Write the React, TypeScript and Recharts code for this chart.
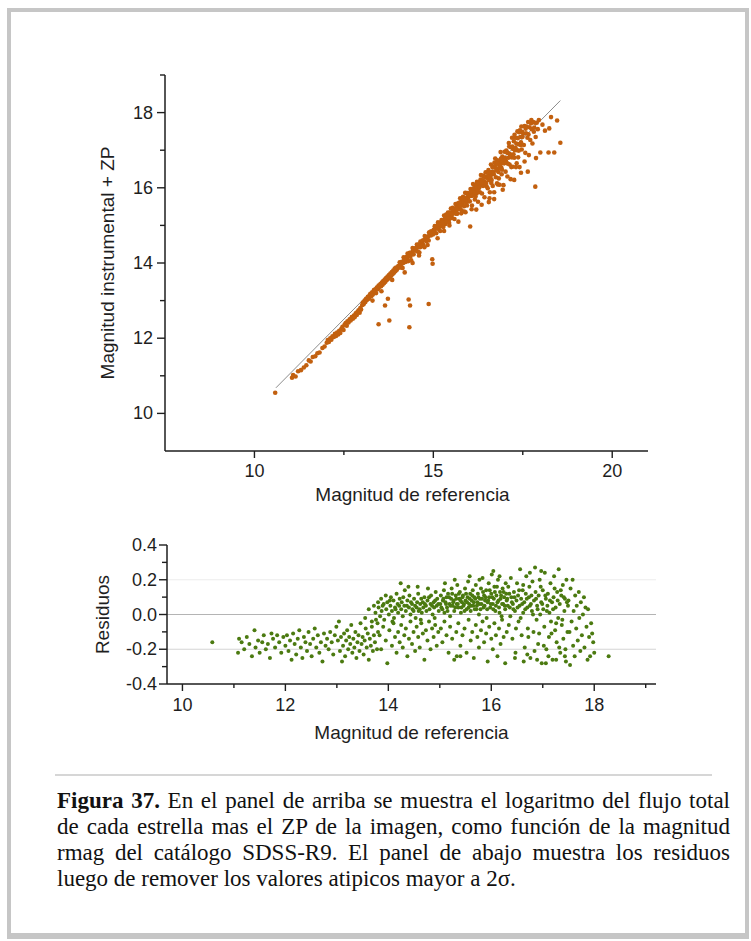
import React from 'react';
import { ScatterChart, Scatter, XAxis, YAxis, ReferenceLine } from 'recharts';

// upper panel: reference magnitude vs instrumental magnitude + ZP
const topStars: [number, number][] = [
  [10.58, 10.55],
  [11.05, 10.95], [11.08, 11.02], [11.15, 10.98], [11.22, 11.12], [11.3, 11.15], [11.38, 11.22], [11.45, 11.28], [11.52, 11.41],
  [11.57, 11.38], [11.63, 11.5], [11.7, 11.52], [11.76, 11.6], [11.82, 11.62], [11.9, 11.74], [11.96, 11.78],
  [12.02, 11.88], [12.05, 11.95], [12.08, 11.9], [12.12, 12.0], [12.15, 11.96], [12.18, 12.05], [12.22, 12.03], [12.25, 12.12],
  [12.28, 12.06], [12.31, 12.15], [12.34, 12.1], [12.37, 12.2], [12.4, 12.14], [12.43, 12.25], [12.46, 12.3], [12.49, 12.22],
  [12.52, 12.36], [12.55, 12.4], [12.58, 12.33], [12.6, 12.45], [12.63, 12.42], [12.66, 12.5], [12.69, 12.47], [12.72, 12.56],
  [12.75, 12.52], [12.78, 12.6], [12.8, 12.56], [12.83, 12.66], [12.86, 12.62], [12.88, 12.7], [12.91, 12.74], [12.94, 12.68],
  [12.96, 12.8], [12.98, 12.76],
  [13.01, 12.88], [13.03, 12.95], [13.05, 12.9], [13.08, 13.0], [13.1, 12.96], [13.12, 13.05], [13.15, 13.02], [13.17, 13.1],
  [13.2, 13.05], [13.22, 13.14], [13.24, 13.18], [13.27, 13.12], [13.29, 13.22], [13.31, 13.16], [13.34, 13.28], [13.36, 13.24],
  [13.38, 13.3], [13.4, 13.2], [13.42, 13.35], [13.45, 13.3], [13.47, 13.4], [13.49, 13.36], [13.52, 13.44], [13.54, 13.38],
  [13.56, 13.48], [13.58, 13.42], [13.6, 13.52], [13.62, 13.46], [13.64, 13.56], [13.66, 13.5], [13.68, 13.6], [13.7, 13.55],
  [13.72, 13.64], [13.74, 13.58], [13.76, 13.68], [13.78, 13.62], [13.8, 13.72], [13.82, 13.66], [13.84, 13.76], [13.86, 13.7],
  [13.88, 13.8], [13.9, 13.74], [13.92, 13.85], [13.94, 13.78], [13.96, 13.88], [13.98, 13.82],
  [13.47, 12.37], [13.65, 12.87], [13.73, 13.05], [13.77, 12.47], [13.55, 13.25], [13.85, 13.55], [13.3, 13.0],
  [14.02, 13.92], [14.05, 13.88], [14.06, 14.02], [14.09, 13.95], [14.11, 13.88], [14.12, 14.03], [14.16, 14.0], [14.17, 14.15],
  [14.19, 14.07], [14.23, 14.03], [14.24, 14.16], [14.27, 14.12], [14.28, 14.25], [14.3, 14.05], [14.33, 14.2], [14.34, 14.27],
  [14.36, 14.17], [14.39, 14.28], [14.41, 14.25], [14.42, 14.4], [14.45, 14.23], [14.47, 14.34], [14.48, 14.39], [14.51, 14.33],
  [14.53, 14.4], [14.54, 14.49], [14.57, 14.3], [14.58, 14.42], [14.6, 14.5], [14.63, 14.42], [14.64, 14.57], [14.66, 14.51],
  [14.69, 14.51], [14.7, 14.6], [14.72, 14.48], [14.75, 14.62], [14.76, 14.72], [14.79, 14.62], [14.8, 14.58], [14.82, 14.7],
  [14.85, 14.69], [14.87, 14.6], [14.88, 14.81], [14.9, 14.76], [14.93, 14.73], [14.94, 14.84], [14.96, 14.79], [14.99, 14.76],
  [14.14, 13.87], [14.38, 14.07], [14.61, 14.28], [14.84, 14.48], [14.03, 13.88], [14.2, 14.1], [14.44, 14.34], [14.67, 14.45],
  [14.91, 14.82],
  [14.31, 13.03], [14.35, 12.87], [14.33, 12.29], [14.87, 12.91], [14.42, 14.0], [14.97, 14.1], [14.98, 13.98], [14.6, 14.2],
  [14.75, 14.42], [14.2, 13.75],
  [15.01, 14.88], [15.03, 14.82], [15.04, 14.98], [15.07, 14.91], [15.08, 14.79], [15.1, 14.99], [15.12, 14.92], [15.13, 15.08],
  [15.15, 14.91], [15.18, 15.03], [15.19, 14.85], [15.21, 15.03], [15.23, 15.14], [15.24, 14.98], [15.26, 15.13], [15.29, 15.08],
  [15.3, 15.26], [15.32, 15.15], [15.34, 15.04], [15.35, 15.24], [15.38, 15.19], [15.39, 15.15], [15.41, 15.34], [15.43, 15.26],
  [15.45, 15.17], [15.46, 15.34], [15.48, 15.27], [15.49, 15.45], [15.06, 14.97], [15.11, 14.95], [15.16, 14.97], [15.2, 15.06],
  [15.25, 15.08], [15.28, 14.96], [15.33, 15.19], [15.37, 15.11], [15.42, 15.22], [15.44, 15.07], [15.47, 15.32], [15.14, 15.03],
  [15.36, 15.29],
  [15.12, 14.66], [15.3, 14.85], [15.45, 15.0],
  [15.51, 15.34], [15.52, 15.2], [15.54, 15.47], [15.56, 15.33], [15.57, 15.44], [15.59, 15.17], [15.61, 15.42], [15.62, 15.57],
  [15.64, 15.37], [15.65, 15.49], [15.67, 15.31], [15.69, 15.59], [15.7, 15.48], [15.72, 15.55], [15.74, 15.44], [15.75, 15.72],
  [15.77, 15.58], [15.78, 15.32], [15.8, 15.67], [15.82, 15.57], [15.83, 15.76], [15.85, 15.64], [15.86, 15.51], [15.88, 15.72],
  [15.89, 15.87], [15.91, 15.62], [15.93, 15.74], [15.94, 15.53], [15.96, 15.86], [15.97, 15.73], [15.99, 15.82], [15.53, 15.3],
  [15.58, 15.42], [15.63, 15.31], [15.68, 15.43], [15.73, 15.61], [15.79, 15.4], [15.84, 15.71], [15.87, 15.37], [15.92, 15.86],
  [15.95, 15.63], [15.98, 15.77], [15.55, 15.45], [15.66, 15.46], [15.76, 15.52], [15.9, 15.69],
  [15.7, 15.1], [15.9, 15.35],
  [16.01, 15.81], [16.02, 15.64], [16.04, 15.97], [16.05, 15.78], [16.07, 15.91], [16.08, 15.53], [16.1, 15.88], [16.11, 16.1],
  [16.13, 15.81], [16.14, 15.97], [16.16, 15.69], [16.17, 16.06], [16.19, 15.94], [16.21, 15.85], [16.22, 16.16], [16.24, 16.04],
  [16.25, 15.63], [16.27, 15.98], [16.28, 16.15], [16.3, 15.88], [16.31, 16.09], [16.33, 16.34], [16.34, 16.08], [16.36, 15.85],
  [16.37, 16.2], [16.39, 16.05], [16.4, 16.32], [16.42, 16.17], [16.43, 15.75], [16.45, 16.14], [16.46, 16.41], [16.48, 16.28],
  [16.49, 16.04], [16.03, 15.79], [16.06, 15.93], [16.12, 15.99], [16.15, 15.87], [16.2, 16.07], [16.23, 15.95], [16.26, 16.11],
  [16.29, 16.02], [16.32, 16.22], [16.35, 16.13], [16.38, 16.32], [16.41, 16.12], [16.44, 16.29], [16.47, 16.12], [16.09, 15.79],
  [16.18, 15.77],
  [16.03, 14.97], [16.07, 15.43], [16.2, 15.42], [16.35, 15.55],
  [16.51, 16.26], [16.52, 15.99], [16.54, 16.47], [16.55, 16.2], [16.57, 16.38], [16.58, 15.88], [16.6, 16.32], [16.61, 16.62],
  [16.63, 16.21], [16.64, 16.42], [16.66, 16.05], [16.67, 16.55], [16.69, 16.36], [16.7, 15.88], [16.72, 16.54], [16.73, 16.78],
  [16.75, 16.28], [16.76, 16.51], [16.78, 16.12], [16.79, 16.73], [16.81, 16.51], [16.82, 16.42], [16.84, 16.7], [16.85, 16.08],
  [16.87, 16.64], [16.88, 16.95], [16.9, 16.54], [16.91, 16.36], [16.93, 16.83], [16.94, 16.66], [16.96, 16.07], [16.97, 16.8],
  [16.99, 16.96], [16.53, 16.32], [16.56, 16.42], [16.59, 16.28], [16.62, 16.13], [16.65, 16.55], [16.68, 16.42], [16.71, 16.67],
  [16.74, 16.62], [16.77, 16.46], [16.8, 16.64], [16.83, 16.25], [16.86, 16.59], [16.89, 16.78], [16.92, 16.48], [16.95, 16.73],
  [16.98, 16.65], [16.57, 15.72], [16.8, 16.09],
  [16.55, 15.62], [16.94, 15.95], [16.7, 15.7],
  [17.01, 16.79], [17.02, 16.43], [17.04, 16.99], [17.05, 16.66], [17.07, 16.3], [17.08, 16.93], [17.1, 16.8], [17.11, 17.19],
  [17.13, 16.62], [17.14, 16.9], [17.16, 16.23], [17.17, 17.08], [17.19, 16.81], [17.2, 17.33], [17.22, 16.56], [17.23, 17.03],
  [17.25, 17.24], [17.26, 16.8], [17.28, 17.0], [17.29, 17.33], [17.31, 16.55], [17.32, 17.18], [17.34, 17.0], [17.35, 17.5],
  [17.37, 16.81], [17.38, 17.16], [17.4, 17.48], [17.41, 16.55], [17.43, 17.35], [17.44, 17.14], [17.46, 17.63], [17.47, 17.02],
  [17.49, 17.35], [17.03, 16.71], [17.06, 16.94], [17.09, 16.64], [17.12, 17.1], [17.15, 16.87], [17.18, 16.55], [17.21, 17.1],
  [17.24, 16.89], [17.27, 17.41], [17.3, 17.06], [17.33, 16.65], [17.36, 17.32], [17.39, 16.99], [17.42, 17.53], [17.45, 17.21],
  [17.48, 17.49],
  [17.26, 16.21], [17.45, 16.4],
  [17.51, 17.44], [17.53, 17.14], [17.55, 17.64], [17.57, 16.93], [17.59, 17.45], [17.61, 17.63], [17.63, 17.33], [17.65, 17.75],
  [17.67, 16.87], [17.69, 17.61], [17.71, 17.27], [17.73, 17.72], [17.75, 17.56], [17.77, 17.18], [17.79, 17.75], [17.81, 17.49],
  [17.84, 17.73], [17.86, 17.35], [17.89, 17.73], [17.92, 17.56], [17.95, 17.8], [17.58, 17.57], [17.66, 17.42], [17.74, 17.8],
  [17.82, 17.6],
  [17.64, 16.43], [17.87, 16.79], [17.85, 16.03], [17.99, 16.94], [17.55, 16.7],
  [18.05, 17.68], [18.12, 17.52], [18.22, 16.94], [18.24, 17.58], [18.29, 17.88], [18.38, 16.94], [18.46, 17.79], [18.55, 17.2],
];

// ends of the fitted line drawn over the upper panel
const fitLine = [
  { x: 10.6, y: 10.68 },
  { x: 18.55, y: 18.32 },
];

// lower panel: reference magnitude vs residual
const residuals: [number, number][] = [
  [10.58, -0.16],
  [11.08, -0.22], [11.1, -0.14], [11.15, -0.16], [11.2, -0.2], [11.25, -0.13], [11.3, -0.17], [11.35, -0.24], [11.4, -0.09],
  [11.42, -0.19], [11.47, -0.15], [11.5, -0.22], [11.55, -0.16], [11.58, -0.12], [11.62, -0.2], [11.66, -0.17], [11.7, -0.25],
  [11.73, -0.11], [11.76, -0.14], [11.8, -0.19], [11.84, -0.12], [11.88, -0.16], [11.92, -0.22], [11.96, -0.13],
  [12.0, -0.18], [12.03, -0.12], [12.06, -0.21], [12.09, -0.15], [12.12, -0.26], [12.15, -0.11], [12.18, -0.17], [12.21, -0.23],
  [12.24, -0.14], [12.27, -0.09], [12.3, -0.19], [12.33, -0.25], [12.36, -0.13], [12.39, -0.16], [12.42, -0.21], [12.45, -0.1],
  [12.48, -0.17], [12.51, -0.24], [12.54, -0.14], [12.57, -0.08], [12.6, -0.19], [12.63, -0.12], [12.66, -0.22], [12.69, -0.16],
  [12.72, -0.27], [12.75, -0.11], [12.78, -0.18], [12.81, -0.14], [12.84, -0.2], [12.87, -0.1], [12.9, -0.16], [12.93, -0.23],
  [12.96, -0.12], [12.99, -0.07],
  [13.02, -0.15], [13.04, -0.04], [13.06, -0.21], [13.08, -0.13], [13.1, -0.27], [13.12, -0.18], [13.14, -0.11], [13.16, -0.24],
  [13.18, -0.15], [13.2, -0.09], [13.22, -0.2], [13.24, -0.13], [13.26, -0.17], [13.28, -0.06], [13.3, -0.22], [13.32, -0.14],
  [13.34, -0.19], [13.36, -0.1], [13.38, -0.25], [13.4, -0.16], [13.42, -0.12], [13.44, -0.21], [13.46, -0.05], [13.48, -0.17],
  [13.5, -0.13], [13.52, -0.23], [13.54, -0.15], [13.56, -0.08], [13.58, -0.19], [13.6, -0.11], [13.62, -0.26], [13.64, -0.14],
  [13.66, -0.18], [13.68, -0.07], [13.7, -0.21], [13.72, -0.12], [13.74, -0.16], [13.76, -0.03], [13.78, -0.2], [13.8, -0.1],
  [13.55, -0.02], [13.62, 0.03], [13.68, -0.04], [13.72, 0.05], [13.75, 0.01], [13.79, -0.05], [13.8, 0.07],
  [13.81, 0.04], [13.84, -0.01], [13.86, 0.09], [13.87, 0.02], [13.91, 0.06], [13.92, -0.03], [13.95, 0.11], [13.96, 0.03],
  [13.98, 0.07], [14.01, 0.0], [14.04, 0.05], [14.05, 0.1], [14.07, 0.02], [14.1, 0.08], [14.11, -0.02], [14.13, 0.04],
  [14.16, 0.12], [14.18, 0.06], [14.19, 0.01], [14.22, 0.09], [14.25, 0.03], [14.26, 0.07], [14.28, -0.01], [14.31, 0.05],
  [14.32, 0.14], [14.34, 0.02], [14.37, 0.08], [14.4, 0.04], [14.41, 0.11], [14.43, 0.0], [14.46, 0.06], [14.47, 0.03],
  [14.5, 0.09], [14.52, 0.05], [14.53, -0.02], [14.56, 0.07], [14.58, 0.12], [14.59, 0.02], [14.62, 0.06], [14.64, 0.09],
  [14.65, 0.01], [14.68, 0.04], [14.7, 0.1], [14.71, 0.06], [14.74, 0.02], [14.76, 0.08], [14.77, 0.15], [14.8, 0.03],
  [14.82, 0.06], [14.83, 0.11], [14.86, 0.0], [14.88, 0.07], [14.89, 0.04], [14.92, 0.13], [14.94, 0.05], [14.95, 0.09],
  [14.98, 0.02], [13.89, 0.05], [14.03, 0.08], [14.14, 0.03], [14.21, 0.05], [14.29, 0.1], [14.36, 0.05], [14.44, 0.07],
  [14.49, 0.02], [14.55, 0.04], [14.61, 0.03], [14.67, 0.07], [14.73, 0.05], [14.79, 0.1], [14.85, 0.05], [14.91, 0.08],
  [14.97, 0.06], [14.08, -0.04], [14.39, 0.16], [14.63, -0.03], [14.9, -0.02], [14.24, 0.18], [14.57, 0.16],
  [13.83, -0.12], [13.86, -0.2], [13.9, -0.07], [13.95, -0.15], [13.98, -0.28], [14.02, -0.09], [14.07, -0.18], [14.1, -0.05],
  [14.13, -0.13], [14.16, -0.22], [14.19, -0.1], [14.22, -0.16], [14.25, -0.06], [14.28, -0.19], [14.31, -0.12], [14.34, -0.08],
  [14.37, -0.24], [14.4, -0.14], [14.43, -0.04], [14.46, -0.17], [14.49, -0.1], [14.52, -0.21], [14.55, -0.07], [14.58, -0.13],
  [14.61, -0.19], [14.64, -0.05], [14.67, -0.11], [14.7, -0.26], [14.73, -0.09], [14.76, -0.15], [14.79, -0.04], [14.82, -0.2],
  [14.85, -0.08], [14.88, -0.13], [14.91, -0.06], [14.94, -0.18], [14.97, -0.1],
  [15.01, 0.06], [15.02, 0.11], [15.05, 0.03], [15.06, 0.08], [15.08, 0.14], [15.09, 0.01], [15.11, 0.07], [15.13, 0.1],
  [15.14, 0.04], [15.16, 0.12], [15.19, 0.06], [15.2, -0.01], [15.22, 0.09], [15.23, 0.15], [15.25, 0.05], [15.27, 0.08],
  [15.28, 0.02], [15.31, 0.11], [15.33, 0.06], [15.34, 0.17], [15.36, 0.04], [15.38, 0.09], [15.39, 0.13], [15.41, 0.01],
  [15.43, 0.07], [15.45, 0.11], [15.46, 0.05], [15.49, 0.15], [15.5, 0.08], [15.52, 0.03], [15.54, 0.1], [15.55, 0.19],
  [15.57, 0.06], [15.59, 0.12], [15.6, 0.02], [15.62, 0.08], [15.64, 0.14], [15.65, 0.05], [15.67, 0.1], [15.7, 0.17],
  [15.71, 0.03], [15.73, 0.07], [15.74, 0.12], [15.76, 0.0], [15.78, 0.09], [15.8, 0.15], [15.81, 0.06], [15.83, 0.21],
  [15.85, 0.04], [15.86, 0.11], [15.88, 0.08], [15.9, 0.14], [15.91, -0.02], [15.93, 0.07], [15.95, 0.18], [15.96, 0.1],
  [15.98, 0.04], [16.0, 0.12], [16.01, 0.23], [16.03, 0.06], [16.05, 0.09], [16.06, 0.16], [16.08, 0.02], [16.1, 0.11],
  [16.12, 0.07], [16.13, 0.2], [16.15, 0.04], [16.17, 0.13], [16.18, 0.09], [16.2, -0.01], [16.22, 0.15], [16.23, 0.06],
  [16.25, 0.1], [16.27, 0.03], [16.28, 0.18], [16.3, 0.08],
  [15.03, 0.04], [15.07, 0.09], [15.12, 0.06], [15.15, 0.02], [15.18, 0.1], [15.21, 0.05], [15.24, 0.12], [15.26, 0.07],
  [15.3, 0.04], [15.32, 0.09], [15.35, 0.06], [15.37, 0.12], [15.4, 0.08], [15.42, 0.04], [15.44, 0.1], [15.47, 0.06],
  [15.48, 0.02], [15.51, 0.12], [15.53, 0.07], [15.56, 0.04], [15.58, 0.09], [15.61, 0.05], [15.63, 0.11], [15.66, 0.07],
  [15.68, 0.03], [15.69, 0.09], [15.72, 0.05], [15.75, 0.1], [15.77, 0.06], [15.79, 0.03], [15.82, 0.09], [15.84, 0.13],
  [15.87, 0.05], [15.89, 0.1], [15.92, 0.03], [15.94, 0.08], [15.97, 0.14], [15.99, 0.06], [16.02, 0.1], [16.04, 0.03],
  [16.07, 0.13], [16.09, 0.05], [16.11, 0.16], [16.14, 0.08], [16.16, 0.01], [16.19, 0.11], [16.21, 0.06], [16.24, 0.13],
  [16.26, 0.05], [16.29, 0.12], [15.1, 0.18], [15.29, 0.2], [15.58, 0.22], [15.77, 0.2], [16.04, 0.25], [16.16, 0.22],
  [15.02, -0.08], [15.05, -0.16], [15.09, -0.04], [15.13, -0.12], [15.17, -0.22], [15.2, -0.07], [15.24, -0.14], [15.28, -0.26],
  [15.32, -0.1], [15.36, -0.05], [15.4, -0.18], [15.44, -0.12], [15.48, -0.08], [15.52, -0.22], [15.56, -0.03], [15.6, -0.15],
  [15.63, -0.1], [15.66, -0.25], [15.7, -0.06], [15.73, -0.13], [15.76, -0.19], [15.8, -0.09], [15.83, -0.04], [15.86, -0.16],
  [15.9, -0.11], [15.93, -0.27], [15.96, -0.07], [16.0, -0.14], [16.03, -0.2], [16.06, -0.05], [16.09, -0.12], [16.12, -0.24],
  [16.15, -0.08], [16.18, -0.17], [16.21, -0.03], [16.24, -0.13], [16.27, -0.28], [16.3, -0.1], [15.33, -0.24], [15.4, -0.24],
  [16.31, 0.09], [16.33, 0.16], [16.34, -0.06], [16.36, 0.04], [16.38, 0.21], [16.39, 0.1], [16.41, -0.14], [16.42, 0.06],
  [16.44, 0.13], [16.46, 0.02], [16.47, -0.22], [16.49, 0.08], [16.5, 0.18], [16.52, 0.11], [16.53, -0.04], [16.55, 0.05],
  [16.56, 0.26], [16.58, 0.09], [16.59, -0.12], [16.61, 0.14], [16.62, 0.01], [16.64, 0.07], [16.65, -0.19], [16.67, 0.12],
  [16.68, 0.22], [16.7, 0.04], [16.71, -0.08], [16.73, 0.1], [16.74, 0.16], [16.76, -0.25], [16.77, 0.06], [16.79, 0.02],
  [16.8, 0.19], [16.82, -0.1], [16.83, 0.08], [16.85, 0.27], [16.86, 0.13], [16.88, -0.03], [16.89, 0.05], [16.91, -0.17],
  [16.92, 0.11], [16.94, 0.2], [16.95, 0.0], [16.97, 0.07], [16.98, -0.28], [17.0, 0.14], [17.01, 0.03], [17.03, -0.07],
  [17.04, 0.24], [17.06, 0.09], [17.07, -0.2], [17.09, 0.05], [17.1, 0.12], [17.12, -0.13], [17.13, 0.01], [17.15, 0.18],
  [17.16, -0.04], [17.18, 0.07], [17.19, -0.26], [17.21, 0.1], [17.22, 0.22], [17.24, -0.09], [17.25, 0.04], [17.27, -0.16],
  [17.28, 0.13], [17.3, -0.02], [17.31, 0.26], [17.33, 0.06], [17.34, -0.22], [17.36, 0.11], [17.37, -0.06], [17.39, 0.17],
  [17.4, -0.14], [17.42, 0.02], [17.43, 0.09], [17.45, -0.27], [17.46, 0.2], [17.48, -0.1], [17.49, 0.05],
  [16.32, 0.05], [16.35, 0.12], [16.37, -0.01], [16.4, 0.07], [16.43, 0.03], [16.45, 0.1], [16.48, -0.08], [16.51, 0.04],
  [16.54, 0.14], [16.57, -0.02], [16.6, 0.06], [16.63, -0.27], [16.66, 0.03], [16.69, 0.09], [16.72, -0.13], [16.75, 0.05],
  [16.78, 0.11], [16.81, 0.0], [16.84, -0.21], [16.87, 0.09], [16.9, 0.03], [16.93, -0.11], [16.96, 0.16], [16.99, 0.06],
  [17.02, -0.18], [17.05, 0.11], [17.08, 0.02], [17.11, -0.24], [17.14, 0.08], [17.17, -0.11], [17.2, 0.03], [17.23, 0.15],
  [17.26, -0.05], [17.29, 0.08], [17.32, -0.19], [17.35, 0.14], [17.38, -0.03], [17.41, 0.1], [17.44, -0.2], [17.47, 0.07],
  [16.46, -0.25], [16.7, -0.23], [16.89, -0.26], [17.06, -0.28], [17.26, -0.26], [17.43, -0.24], [16.62, 0.17], [16.75, 0.24],
  [16.97, 0.25],
  [17.5, 0.08], [17.52, -0.1], [17.53, -0.29], [17.54, 0.15], [17.56, -0.04], [17.58, 0.2], [17.59, -0.18], [17.6, 0.02],
  [17.62, -0.24], [17.63, 0.11], [17.65, -0.08], [17.66, 0.05], [17.68, -0.15], [17.7, 0.13], [17.71, -0.02], [17.73, -0.21],
  [17.74, 0.07], [17.76, -0.12], [17.78, 0.0], [17.8, 0.1], [17.81, -0.19], [17.83, 0.04], [17.85, -0.07], [17.87, -0.26],
  [17.88, 0.03], [17.9, -0.13], [17.92, -0.24], [17.94, -0.05], [17.96, -0.11], [17.98, -0.16], [18.0, -0.22], [18.28, -0.24],
];

const topXTicks = [10, 12.5, 15, 17.5, 20];
const topYTicks = [10, 11, 12, 13, 14, 15, 16, 17, 18, 19];
const botXTicks = [10, 11, 12, 13, 14, 15, 16, 17, 18, 19];
const botYTicks = [-0.4, -0.3, -0.2, -0.1, 0, 0.1, 0.2, 0.3, 0.4];
const residualGrid = [0.2, 0, -0.2];

const captionLines = [
  'En el panel de arriba se muestra el logaritmo del flujo total',
  'de cada estrella mas el ZP de la imagen, como función de la magnitud',
  'rmag del catálogo SDSS-R9. El panel de abajo muestra los residuos',
  'luego de remover los valores atipicos mayor a 2σ.',
];

const sans = '"Liberation Sans", Arial, sans-serif';
const serif = '"Liberation Serif", "Times New Roman", serif';
const ink = '#1e1e1e';
const FS = 18;

const gridColor = (v: number) => (v === 0 ? '#b4b4b4' : v < 0 ? '#d4d4d4' : '#ececec');

const leftTick = (isMajor: (v: number) => boolean, fmt: (v: number) => string, gap: number) => (p: any) => {
  const { x, y, payload } = p;
  const major = isMajor(payload.value);
  return (
    <g>
      <line x1={x} y1={y} x2={x - (major ? 8 : 5)} y2={y} stroke={ink} strokeWidth={1.4} />
      {major && (
        <text x={x - gap} y={y} textAnchor="end" dominantBaseline="central" fontSize={FS} fontFamily={sans} fill={ink}>
          {fmt(payload.value)}
        </text>
      )}
    </g>
  );
};

const bottomTick = (isMajor: (v: number) => boolean, fmt: (v: number) => string, gap: number) => (p: any) => {
  const { x, y, payload } = p;
  const major = isMajor(payload.value);
  return (
    <g>
      <line x1={x} y1={y} x2={x} y2={y + (major ? 7 : 4)} stroke={ink} strokeWidth={1.4} />
      {major && (
        <text x={x} y={y + gap} textAnchor="middle" dominantBaseline="central" fontSize={FS} fontFamily={sans} fill={ink}>
          {fmt(payload.value)}
        </text>
      )}
    </g>
  );
};

const YTitle = (p: any) => {
  const vb = p.viewBox;
  return (
    <text
      transform={`translate(${vb.x + p.shift}, ${vb.y + vb.height / 2}) rotate(-90)`}
      textAnchor="middle"
      dominantBaseline="central"
      fontSize={FS + 1}
      fontFamily={sans}
      fill={ink}
    >
      {p.text}
    </text>
  );
};

const XTitle = (p: any) => {
  const vb = p.viewBox;
  return (
    <text
      x={vb.x + vb.width / 2 + (p.dx0 || 0)}
      y={vb.y + p.shift}
      textAnchor="middle"
      dominantBaseline="central"
      fontSize={FS + 1}
      fontFamily={sans}
      fill={ink}
    >
      {p.text}
    </text>
  );
};

const axisLine = { stroke: ink, strokeWidth: 1.5 };

export default function App() {
  const topData = topStars.map(([x, y]) => ({ x, y }));
  const resData = residuals.map(([x, y]) => ({ x, y }));
  const str = (v: number) => String(v);

  return (
    <div style={{ position: 'absolute', left: 0, top: 0, width: 751, height: 941, background: '#fff', overflow: 'hidden' }}>
      <div
        style={{
          position: 'absolute', left: 7, top: 8, width: 742, height: 931,
          boxSizing: 'border-box', border: '4px solid #c6c6c6', borderBottomWidth: 6,
        }}
      />

      <div style={{ position: 'absolute', left: 0, top: 0 }}>
        <ScatterChart width={751} height={520} margin={{ top: 75, right: 103, left: 95, bottom: 9 }}>
          <XAxis
            type="number" dataKey="x" domain={[7.5, 21]} ticks={topXTicks} interval={0}
            tickSize={0} tickMargin={0} axisLine={axisLine}
            tick={bottomTick((v) => v % 5 === 0, str, 20)}
            height={60}
            label={<XTitle text="Magnitud de referencia" shift={43} dx0={6} />}
          />
          <YAxis
            type="number" dataKey="y" domain={[9, 19]} ticks={topYTicks} interval={0}
            tickSize={0} tickMargin={0} axisLine={axisLine}
            tick={leftTick((v) => v % 2 === 0, str, 12)}
            width={70}
            label={<YTitle text="Magnitud instrumental + ZP" shift={12} />}
          />
          <Scatter
            data={topData}
            isAnimationActive={false}
            shape={(p: any) => <circle cx={p.cx} cy={p.cy} r={2.3} fill="#c2600f" />}
          />
          <ReferenceLine segment={fitLine} stroke="#8c8c8c" strokeWidth={1} />
        </ScatterChart>
      </div>

      <div style={{ position: 'absolute', left: 0, top: 500 }}>
        <ScatterChart width={751} height={260} margin={{ top: 45, right: 95, left: 97, bottom: 26 }}>
          <XAxis
            type="number" dataKey="x" domain={[9.7, 19.2]} ticks={botXTicks} interval={0}
            tickSize={0} tickMargin={0} axisLine={axisLine}
            tick={bottomTick((v) => v % 2 === 0, str, 21)}
            height={50}
            label={<XTitle text="Magnitud de referencia" shift={48} />}
          />
          <YAxis
            type="number" dataKey="y" domain={[-0.4, 0.4]} ticks={botYTicks} interval={0}
            tickSize={0} tickMargin={0} axisLine={axisLine}
            tick={leftTick((v) => Math.round(v * 10) % 2 === 0, (v) => v.toFixed(1), 10)}
            width={70}
            label={<YTitle text="Residuos" shift={5} />}
          />
          {residualGrid.map((g) => (
            <ReferenceLine key={g} y={g} stroke={gridColor(g)} strokeWidth={1.2} />
          ))}
          <Scatter
            data={resData}
            isAnimationActive={false}
            shape={(p: any) => <circle cx={p.cx} cy={p.cy} r={2} fill="#4b7a10" />}
          />
        </ScatterChart>
      </div>

      <div style={{ position: 'absolute', left: 55, top: 774, width: 657, height: 2, background: '#d6d6d6' }} />

      <div
        style={{
          position: 'absolute', left: 57, top: 788, width: 673,
          fontFamily: serif, fontSize: 23, lineHeight: '26px', color: '#111',
        }}
      >
        {captionLines.map((line, i) => {
          const last = i === captionLines.length - 1;
          return (
            <div key={i} style={{ textAlign: last ? 'left' : 'justify', textAlignLast: last ? 'left' : 'justify', whiteSpace: 'nowrap' as const }}>
              {i === 0 && <b>Figura 37. </b>}
              {line}
            </div>
          );
        })}
      </div>
    </div>
  );
}
